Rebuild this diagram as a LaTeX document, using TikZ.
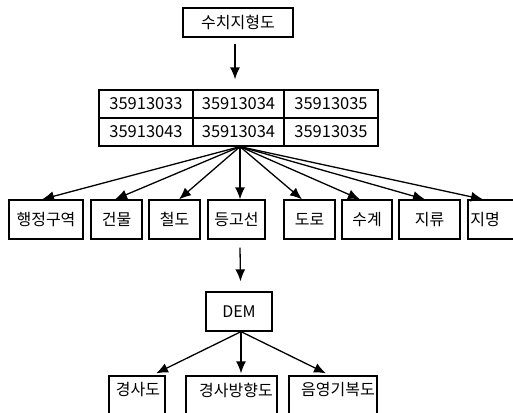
\documentclass[tikz,border=0pt]{standalone}
\usepackage{fontspec}
\setmainfont{Noto Sans CJK KR}
\usetikzlibrary{arrows.meta}
\begin{document}
\begin{tikzpicture}[x=1pt,y=-1pt,line width=1.3pt,
  box/.style={draw,line width=1.3pt,inner sep=0pt,font=\fontsize{16}{16}\selectfont},
  cell/.style={draw,line width=1.3pt,inner sep=0pt,minimum height=28pt,font=\fontsize{16.5}{16}\selectfont},
  lbl/.style={inner sep=0pt,font=\fontsize{16}{16}\selectfont},
  arr/.style={-{Latex[length=12pt,width=10pt]}}]
\useasboundingbox (0,0) rectangle (513,412);
\clip (0,0) rectangle (513,412);
% top
\node[box,minimum width=110pt,minimum height=29pt] (top) at (238,22.5) {수치지형도};
% table
\node[cell,minimum width=94pt] (c11) at (146,104) {35913033};
\node[cell,minimum width=91pt] (c12) at (238.5,104) {35913034};
\node[cell,minimum width=94pt] (c13) at (331,104) {35913035};
\node[cell,minimum width=94pt] (c21) at (146,132) {35913043};
\node[cell,minimum width=91pt] (c22) at (238.5,132) {35913034};
\node[cell,minimum width=94pt] (c23) at (331,132) {35913035};
\draw[arr] ([xshift=-3pt,yshift=-6pt]top.south) -- ([xshift=-3.5pt,yshift=10pt]c12.north);
\coordinate (hub) at ([xshift=1.5pt]c22.south);
% row of layers
\node[box,minimum width=74pt,minimum height=39pt] (b1) at (46,219.5) {행정구역};
\node[box,minimum width=51pt,minimum height=39pt] (b2) at (116.5,219.5) {건물};
\node[box,minimum width=51pt,minimum height=39pt] (b3) at (174.5,219.5) {철도};
\node[box,minimum width=57pt,minimum height=39pt] (b4) at (236.5,219.5) {등고선};
\node[box,minimum width=51pt,minimum height=39pt] (b5) at (309.5,219.5) {도로};
\node[box,minimum width=50pt,minimum height=39pt] (b6) at (367,219.5) {수계};
\node[box,minimum width=61pt,minimum height=39pt] (b7) at (429.5,219.5) {지류};
\node[box,minimum width=56pt,minimum height=39pt] (b8) at (496,219.5) {};
\node[lbl] (t8) at (485,219.5) {지명};
\draw[arr] (hub) -- ([xshift=-4pt]b1.north);
\draw[arr] (hub) -- ([xshift=-1.5pt]b2.north);
\draw[arr] (hub) -- ([xshift=4.5pt]b3.north);
\draw[arr] (hub) -- ([xshift=3.5pt]b4.north);
\draw[arr] (hub) -- ([xshift=-7.5pt]b5.north);
\draw[arr] (hub) -- ([xshift=-7pt]b6.north);
\draw[arr] (hub) -- ([xshift=-4.5pt]b7.north);
\draw[arr] (hub) -- ([xshift=-13pt]b8.north);
% DEM
\node[box,minimum width=66pt,minimum height=39pt] (dem) at (239,311.5) {DEM};
\draw[arr] ([xshift=3.5pt,yshift=-8pt]b4.south) -- ([xshift=1.5pt,yshift=10pt]dem.north);
\coordinate (hub2) at ([xshift=2pt]dem.south);
% bottom
\node[box,minimum width=56pt,minimum height=44pt] (e1) at (137,398) {};
\node[box,minimum width=91pt,minimum height=44pt] (e2) at (231.5,398) {};
\node[box,minimum width=88pt,minimum height=44pt] (e3) at (333,398) {};
\node[lbl] (s1) at (138,390) {경사도};
\node[lbl] (s2) at (236,390) {경사방향도};
\node[lbl] (s3) at (338,390) {음영기복도};
\draw[arr] (hub2) -- ([xshift=19pt,yshift=2pt]e1.north);
\draw[arr] (hub2) -- ([xshift=9.5pt,yshift=2pt]e2.north);
\draw[arr] (hub2) -- ([xshift=-7pt,yshift=2pt]e3.north);
\end{tikzpicture}
\end{document}
